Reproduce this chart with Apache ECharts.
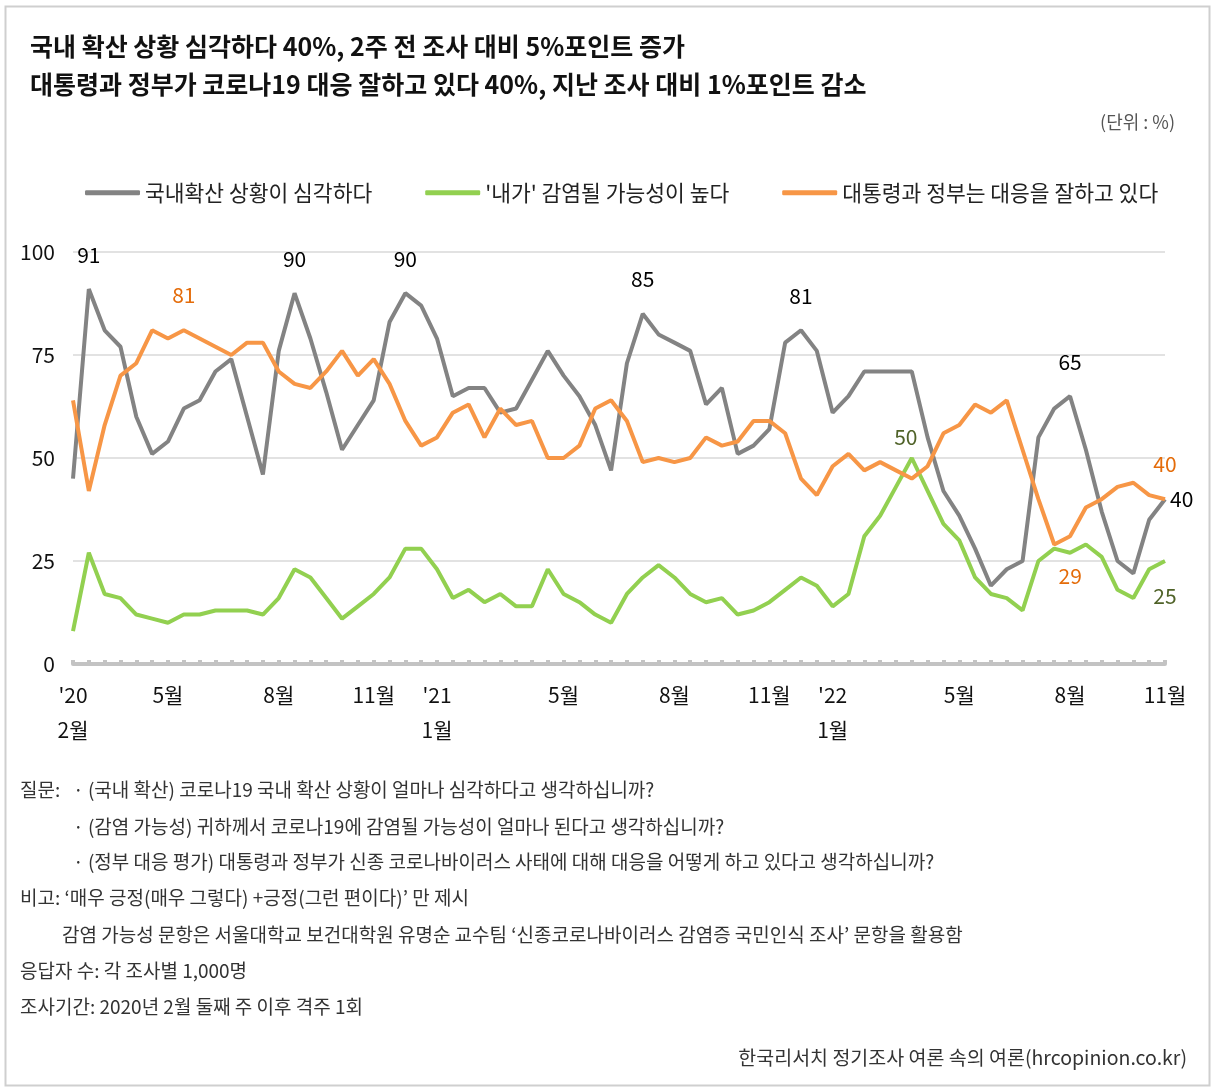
<!DOCTYPE html>
<html>
<head>
<meta charset="utf-8">
<script src="https://cdn.jsdelivr.net/npm/echarts@6.0.0/dist/echarts.min.js"></script>
<style>
  html, body { margin: 0; padding: 0; background: #fff; }
  #chart { width: 1211px; height: 1087px; }
</style>
</head>
<body>
<div id="chart"></div>
<script>
// biweekly survey, Feb 2020 - Nov 2022 (70 waves)
const tickLabels = {
  0: "'20\n2월", 6: "5월", 13: "8월", 19: "11월",
  23: "'21\n1월", 31: "5월", 38: "8월", 44: "11월",
  48: "'22\n1월", 56: "5월", 63: "8월", 69: "11월"
};
const waveCount = 70;

const seriesNames = ["국내확산 상황이 심각하다", "'내가' 감염될 가능성이 높다", "대통령과 정부는 대응을 잘하고 있다"];

const serious = [45, 91, 81, 77, 60, 51, 54, 62, 64, 71,
  74, 60, 46, 76, 90, 79, 66, 52, 58, 64,
  83, 90, 87, 79, 65, 67, 67, 61, 62, 69,
  76, 70, 65, 58, 47, 73, 85, 80, 78, 76,
  63, 67, 51, 53, 57, 78, 81, 76, 61, 65,
  71, 71, 71, 71, 55, 42, 36, 28, 19, 23,
  25, 55, 62, 65, 52, 37, 25, 22, 35, 40];

const infection = [8, 27, 17, 16, 12, 11, 10, 12, 12, 13,
  13, 13, 12, 16, 23, 21, 16, 11, 14, 17,
  21, 28, 28, 23, 16, 18, 15, 17, 14, 14,
  23, 17, 15, 12, 10, 17, 21, 24, 21, 17,
  15, 16, 12, 13, 15, 18, 21, 19, 14, 17,
  31, 36, 43, 50, 42, 34, 30, 21, 17, 16,
  13, 25, 28, 27, 29, 26, 18, 16, 23, 25];

const govResponse = [64, 42, 58, 70, 73, 81, 79, 81, 79, 77,
  75, 78, 78, 71, 68, 67, 71, 76, 70, 74,
  68, 59, 53, 55, 61, 63, 55, 62, 58, 59,
  50, 50, 53, 62, 64, 59, 49, 50, 49, 50,
  55, 53, 54, 59, 59, 56, 45, 41, 48, 51,
  47, 49, 47, 45, 48, 56, 58, 63, 61, 64,
  52, 40, 29, 31, 38, 40, 43, 44, 41, 40];

// which waves get a value label, and where
const seriousLabels = { 1: "top", 14: "top", 21: "top", 36: "top", 46: "top", 63: "top", 69: "right" };
const infectionLabels = { 53: "top", 69: "bottom" };
const govLabels = { 7: "top", 62: "bottom", 69: "top" };

const FONT = "'Noto Sans CJK KR', 'Noto Sans', sans-serif";

const categories = Array.from({ length: waveCount }, (_, i) => tickLabels[i] || "");

function withLabels(values, labels, color, dist, shift) {
  return values.map((v, i) => {
    if (!labels[i]) return v;
    const pos = labels[i];
    return {
      value: v,
      label: {
        show: true,
        position: pos,
        distance: pos === "right" ? 5 : (dist[pos] || 24),
        offset: (shift && shift[i]) || [0, 0],
        color: color,
        fontSize: 21,
        fontFamily: FONT
      }
    };
  });
}

function lineSeries(name, data, color) {
  return {
    name: name,
    type: "line",
    data: data,
    symbol: "circle",
    symbolSize: 0,
    showAllSymbol: true,
    lineStyle: { color: color, width: 4 },
    itemStyle: { color: color },
    emphasis: { disabled: true },
    animation: false
  };
}

const footnotes = [
  { x: 20, y: 790, text: "질문:" },
  { x: 73, y: 790, text: "· (국내 확산) 코로나19 국내 확산 상황이 얼마나 심각하다고 생각하십니까?" },
  { x: 73, y: 827, text: "· (감염 가능성) 귀하께서 코로나19에 감염될 가능성이 얼마나 된다고 생각하십니까?" },
  { x: 73, y: 862, text: "· (정부 대응 평가) 대통령과 정부가 신종 코로나바이러스 사태에 대해 대응을 어떻게 하고 있다고 생각하십니까?" },
  { x: 20, y: 898, text: "비고: ‘매우 긍정(매우 그렇다) +긍정(그런 편이다)’ 만 제시" },
  { x: 62, y: 935, text: "감염 가능성 문항은 서울대학교 보건대학원 유명순 교수팀 ‘신종코로나바이러스 감염증 국민인식 조사’ 문항을 활용함" },
  { x: 20, y: 971, text: "응답자 수: 각 조사별 1,000명" },
  { x: 20, y: 1007, text: "조사기간: 2020년 2월 둘째 주 이후 격주 1회" }
];

const chart = echarts.init(document.getElementById("chart"));

const option = {
  backgroundColor: "#fff",
  textStyle: { fontFamily: FONT },
  title: [
    {
      text: "국내 확산 상황 심각하다 40%, 2주 전 조사 대비 5%포인트 증가\n대통령과 정부가 코로나19 대응 잘하고 있다 40%, 지난 조사 대비 1%포인트 감소",
      left: 30,
      top: 27,
      padding: 0,
      textStyle: { fontSize: 25, fontWeight: "bold", color: "#111", lineHeight: 38, fontFamily: FONT }
    },
    {
      text: "(단위 : %)",
      right: 36,
      top: 113,
      padding: 0,
      textStyle: { fontSize: 18, fontWeight: "normal", color: "#555", fontFamily: FONT }
    }
  ],
  legend: {
    left: 85,
    top: 182,
    padding: 0,
    itemWidth: 55,
    itemHeight: 5,
    itemGap: 53,
    icon: "roundRect",
    data: seriesNames,
    textStyle: { fontSize: 21.5, color: "#222", fontFamily: FONT },
    selectedMode: false
  },
  grid: { left: 73, right: 46, top: 252, bottom: 423 },
  xAxis: {
    type: "category",
    boundaryGap: false,
    data: categories,
    axisLine: { lineStyle: { color: "#c3c3c3", width: 4 } },
    axisTick: { show: true, inside: true, length: 4, interval: 0, lineStyle: { color: "#c3c3c3", width: 4 } },
    axisLabel: { interval: 0, margin: 14, fontSize: 21, lineHeight: 35, color: "#111", fontFamily: FONT },
    splitLine: { show: false }
  },
  yAxis: {
    type: "value",
    min: 0,
    max: 100,
    interval: 25,
    axisLine: { show: false },
    axisTick: { show: false },
    axisLabel: { margin: 18, fontSize: 21, color: "#111", fontFamily: FONT },
    splitLine: { lineStyle: { color: "#d9d9d9", width: 1.5 } }
  },
  series: [
    lineSeries(seriesNames[0], withLabels(serious, seriousLabels, "#000", { top: 24 }), "#838383"),
    lineSeries(seriesNames[1], withLabels(infection, infectionLabels, "#4f6228", { top: 10, bottom: 25 }, { 53: [-6, 0] }), "#92d050"),
    lineSeries(seriesNames[2], withLabels(govResponse, govLabels, "#e46c0a", { top: 25, bottom: 21 }, { 62: [16, 0] }), "#f79646")
  ],
  graphic: [
    {
      type: "rect",
      left: 3, top: 4,
      shape: { width: 1204, height: 1079 },
      style: { fill: "none", stroke: "#cfcfcf", lineWidth: 2 },
      silent: true
    }
  ].concat(footnotes.map(f => ({
    type: "text",
    x: f.x,
    y: f.y,
    style: { text: f.text, fontSize: 19, fill: "#333", fontFamily: FONT, verticalAlign: "middle" },
    silent: true
  }))).concat([{
    type: "text",
    x: 1187,
    y: 1058,
    style: { text: "한국리서치 정기조사 여론 속의 여론(hrcopinion.co.kr)", fontSize: 19.5, fill: "#333", fontFamily: FONT, align: "right", verticalAlign: "middle" },
    silent: true
  }])
};

chart.setOption(option);
</script>
</body>
</html>
